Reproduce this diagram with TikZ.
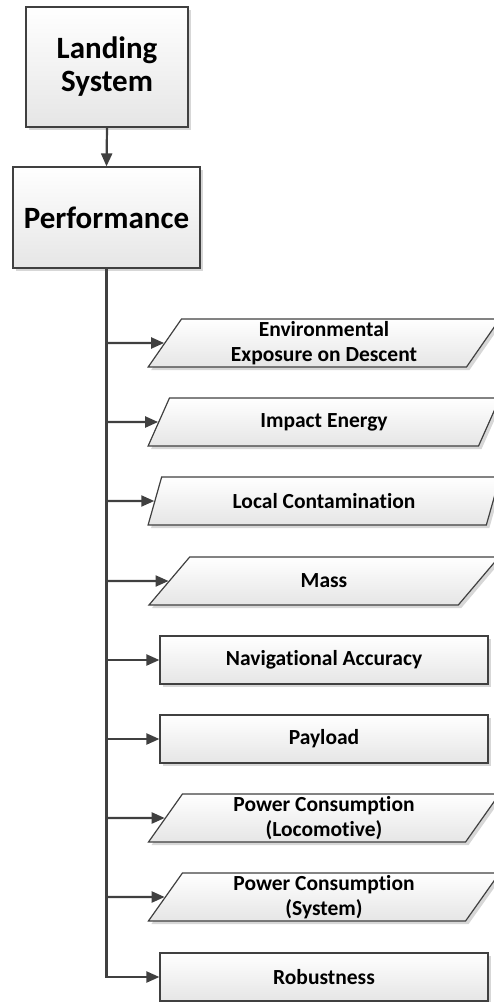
\documentclass[tikz,border=0pt]{standalone}
\usepackage{fontspec}
\setmainfont{Carlito}[Ligatures=NoCommon]
\usetikzlibrary{shapes.geometric,shadows,arrows.meta}
\begin{document}
\begin{tikzpicture}[x=1pt,y=-1pt,
  conn/.style={draw=black!75, line width=2.2pt},
  tip/.style={-{Triangle[length=13pt,width=11pt]}},
  boxbase/.style={draw=black!75, line width=1.2pt, top color=white, bottom color=black!10,
    drop shadow={shadow xshift=3pt, shadow yshift=-3pt, fill=black!35, opacity=0.45},
    align=center, inner sep=0pt, text=black},
  topbox/.style={boxbase, rectangle, font=\bfseries\fontsize{31}{33}\selectfont},
  rbox/.style={boxbase, rectangle, minimum width=328pt, minimum height=48pt,
    font=\bfseries\fontsize{21.5}{25}\selectfont},
  pbox/.style={boxbase, trapezium, trapezium left angle=63.4, trapezium right angle=116.6,
    trapezium stretches=true, minimum width=352pt, minimum height=48pt,
    font=\bfseries\fontsize{21.5}{25}\selectfont}]
\useasboundingbox (0,0) rectangle (494,1002);
\node[topbox, minimum width=162pt, minimum height=120pt] (land) at (107,67) {Landing\\System};
\node[topbox, minimum width=187pt, minimum height=101pt] (perf) at (106.5,217.5) {Performance};
\draw[conn,tip] (land.south) -- (perf.north);
\node[pbox] (c1) at (324,343) {Environmental\\Exposure on Descent};
\node[pbox] (c2) at (324,422) {Impact Energy};
\node[pbox] (c3) at (324,501) {Local Contamination};
\node[pbox] (c4) at (324,581) {Mass};
\node[rbox] (c5) at (324,660) {Navigational Accuracy};
\node[rbox] (c6) at (324,739) {Payload};
\node[pbox] (c7) at (324,818) {Power Consumption\\(Locomotive)};
\node[pbox] (c8) at (324,897) {Power Consumption\\(System)};
\node[rbox] (c9) at (324,977) {Robustness};
\draw[conn,tip] (perf.south) |- (c9);
\foreach \c in {c1,c2,c3,c4,c5,c6,c7,c8}{
  \draw[conn,tip] (perf.south |- \c) -- (\c);
}
\end{tikzpicture}
\end{document}
